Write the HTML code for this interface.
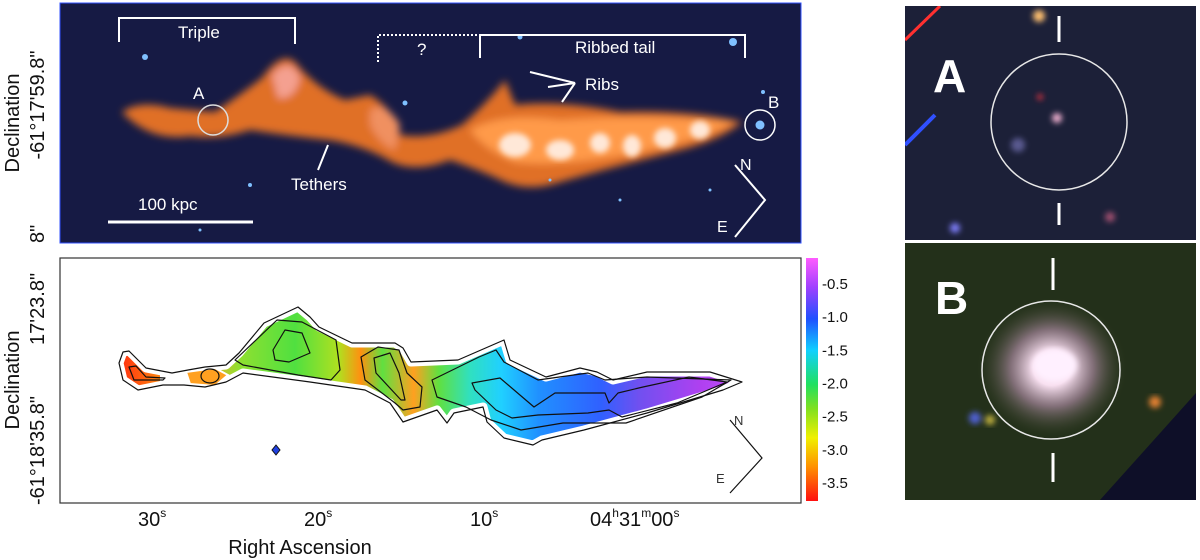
<!DOCTYPE html>
<html><head><meta charset="utf-8"><style>
html,body{margin:0;padding:0;background:#fff;width:1200px;height:560px;overflow:hidden}
svg{display:block;font-family:"Liberation Sans","DejaVu Sans",sans-serif}
</style></head><body>
<svg id="fig" width="1200" height="560" viewBox="0 0 1200 560">
<defs>
<filter id="b6"><feGaussianBlur stdDeviation="4"/></filter>
<filter id="b3"><feGaussianBlur stdDeviation="3"/></filter>
<filter id="b2"><feGaussianBlur stdDeviation="1.5"/></filter>
<linearGradient id="cbar" x1="0" y1="0" x2="0" y2="1">
<stop offset="0" stop-color="#ff5cff"/><stop offset="0.12" stop-color="#a040ff"/><stop offset="0.25" stop-color="#2050ff"/>
<stop offset="0.38" stop-color="#10d0ff"/><stop offset="0.52" stop-color="#20e060"/><stop offset="0.62" stop-color="#80e020"/>
<stop offset="0.74" stop-color="#f0f000"/><stop offset="0.86" stop-color="#ff9000"/><stop offset="1" stop-color="#ff1010"/>
</linearGradient>
<linearGradient id="spix" gradientUnits="userSpaceOnUse" x1="120" y1="0" x2="745" y2="0">
<stop offset="0" stop-color="#ff3010"/><stop offset="0.06" stop-color="#ff8010"/><stop offset="0.13" stop-color="#ffa020"/>
<stop offset="0.19" stop-color="#90e030"/><stop offset="0.28" stop-color="#50e040"/><stop offset="0.35" stop-color="#b0e020"/>
<stop offset="0.385" stop-color="#ff9010"/><stop offset="0.42" stop-color="#60e040"/><stop offset="0.47" stop-color="#ffa020"/>
<stop offset="0.51" stop-color="#60e040"/><stop offset="0.56" stop-color="#30e0c0"/><stop offset="0.61" stop-color="#20d0ff"/>
<stop offset="0.67" stop-color="#2090ff"/><stop offset="0.77" stop-color="#3060ff"/><stop offset="0.83" stop-color="#7050f0"/>
<stop offset="0.93" stop-color="#b040f0"/><stop offset="1" stop-color="#c050ff"/>
</linearGradient>
<radialGradient id="glowB" cx="0.5" cy="0.5" r="0.5">
<stop offset="0" stop-color="#fff4ff"/><stop offset="0.25" stop-color="#f8e0f0"/><stop offset="0.55" stop-color="#9a7f90" stop-opacity="0.8"/><stop offset="1" stop-color="#334022" stop-opacity="0"/>
</radialGradient>
<clipPath id="clipTop"><rect x="60" y="3" width="741" height="240"/></clipPath>
<clipPath id="clipA"><rect x="905" y="6" width="291" height="234"/></clipPath>
<clipPath id="clipB"><rect x="905" y="243" width="291" height="257"/></clipPath>
</defs>

<!-- TOP PANEL -->
<g clip-path="url(#clipTop)">
<rect x="60" y="3" width="741" height="240" fill="#161a44"/>
<g filter="url(#b6)">
<path d="M122,112 Q140,100 170,108 L215,112 Q240,95 262,78 Q285,45 300,68 Q320,90 345,100 L370,95 Q395,110 400,135 Q430,140 462,125 Q490,100 505,80 L515,105 Q560,100 620,112 Q690,110 742,122 Q720,140 680,150 Q620,165 560,182 Q530,192 505,182 Q480,170 450,160 Q410,175 385,158 Q360,145 330,140 Q290,136 250,130 Q220,140 190,136 Q150,142 122,112 Z" fill="#e07028"/>
<path d="M470,130 Q500,112 560,120 Q650,114 735,122 Q700,140 640,152 Q560,168 515,162 Q485,150 470,130 Z" fill="#ff9a48"/>
<path d="M272,75 Q290,55 300,78 Q295,100 278,98 Z" fill="#f4a090"/>
<path d="M370,110 Q385,100 400,125 L395,150 Q380,145 370,125 Z" fill="#f09060"/>
</g>
<g filter="url(#b3)" fill="#ffe8d8">
<ellipse cx="515" cy="145" rx="16" ry="12"/><ellipse cx="560" cy="150" rx="14" ry="10"/><ellipse cx="600" cy="143" rx="10" ry="10"/>
<ellipse cx="632" cy="146" rx="9" ry="11"/><ellipse cx="665" cy="138" rx="11" ry="10"/><ellipse cx="700" cy="130" rx="10" ry="9"/>
</g>
<g fill="#7fc0ff">
<circle cx="145" cy="57" r="3"/><circle cx="733" cy="42" r="4"/><circle cx="520" cy="37" r="2.5"/><circle cx="405" cy="103" r="2.5"/><circle cx="763" cy="92" r="2"/><circle cx="760" cy="125" r="4.5"/><circle cx="250" cy="185" r="2"/><circle cx="200" cy="230" r="1.5"/><circle cx="620" cy="200" r="1.5"/><circle cx="550" cy="180" r="1.5"/><circle cx="710" cy="190" r="1.5"/>
</g>
<g stroke="#fff" fill="none" stroke-width="2">
<path d="M119,42 V18 H295 V44"/>
<path d="M480,58 V35 H745 V58"/>
<path d="M378,62 V35 H480" stroke-dasharray="2,2"/>
<circle cx="213" cy="120" r="15" stroke-width="1.5" stroke="#ddd"/>
<circle cx="760" cy="125" r="15" stroke-width="1.5"/>
<path d="M530,72 L575,83 L548,87 M575,83 L562,102"/>
<path d="M328,145 L318,170"/>
<path d="M108,222 H253" stroke-width="3"/>
<path d="M735,165 L765,200 L735,237"/>
</g>
<g fill="#fff" font-size="17">
<text x="178" y="38">Triple</text>
<text x="417" y="55">?</text>
<text x="575" y="53">Ribbed tail</text>
<text x="585" y="90">Ribs</text>
<text x="193" y="99">A</text>
<text x="768" y="108">B</text>
<text x="291" y="190">Tethers</text>
<text x="138" y="210">100 kpc</text>
<text x="740" y="170" font-size="16">N</text>
<text x="717" y="232" font-size="16">E</text>
</g>
</g>
<rect x="60" y="3" width="741" height="240" fill="none" stroke="#3050ff" stroke-width="1"/>
<g font-size="20" fill="#111">
<text transform="translate(19,123) rotate(-90)" text-anchor="middle">Declination</text>
<text transform="translate(44,105) rotate(-90)" text-anchor="middle">-61°17'59.8"</text>
<text transform="translate(44,243) rotate(-90)" text-anchor="start">8"</text>
</g>

<!-- BOTTOM PANEL -->
<g>
<rect x="60" y="258" width="741" height="245" fill="#fff" stroke="#333" stroke-width="1.2"/>
<g>
<path d="M123,352 L129,351 L146,368 L172,373 L188,370 L205,367 L226,365 L239,353 L264,323 L298,307 L310,317 L319,327 L352,343 L395,343 L403,348 L411,362 L458,360 L504,340 L510,360 L546,377 L580,368 L597,372 L613,380 L647,372 L710,372 L742,382 L723,390 L647,413 L584,430 L542,440 L533,445 L504,438 L487,422 L483,407 L454,413 L447,423 L437,410 L403,422 L390,403 L365,390 L310,382 L243,373 L226,382 L205,387 L184,385 L163,385 L138,390 L123,380 L119,363 Z" fill="url(#spix)" stroke="#fff" stroke-width="9" stroke-linejoin="round"/>
<rect x="160" y="360" width="40" height="30" fill="#fff"/>
<path d="M186,372 L215,368 L228,375 L215,386 L190,384 Z" fill="#ffa020" stroke="#fff" stroke-width="2"/>
<g fill="none" stroke="#111" stroke-width="1.2" stroke-linejoin="round">
<path d="M123,352 L129,351 L146,368 L172,373 L188,370 L205,367 L226,365 L239,353 L264,323 L298,307 L310,317 L319,327 L352,343 L395,343 L403,348 L411,362 L458,360 L504,340 L510,360 L546,377 L580,368 L597,372 L613,380 L647,372 L710,372 L742,382 L723,390 L647,413 L584,430 L542,440 L533,445 L504,438 L487,422 L483,407 L454,413 L447,423 L437,410 L403,422 L390,403 L365,390 L310,382 L243,373 L226,382 L205,387 L184,385 L163,385 L138,390 L123,380 L119,363 Z"/>
<path d="M129,367 L136,366 L146,377 L165,378 L163,380 L134,380 Z"/>
<ellipse cx="210" cy="376" rx="9" ry="7"/>
<path d="M235,360 L277,320 L302,322 L336,340 L340,370 L331,380 L298,375 L243,365 Z"/>
<path d="M273,350 L285,330 L302,333 L310,353 L289,362 L275,360 Z"/>
<path d="M361,357 L378,347 L399,350 L407,373 L422,387 L420,407 L403,410 L395,403 L365,380 Z"/>
<path d="M374,358 L390,353 L399,373 L405,400 L401,400 L376,373 Z"/>
<path d="M432,380 L479,357 L496,350 L504,362 L538,380 L588,373 L605,380 L647,377 L731,380 L702,397 L626,423 L563,423 L521,430 L491,420 L466,407 L437,397 Z"/>
<path d="M472,383 L500,378 L534,407 L555,393 L605,393 L609,403 L618,393 L643,387 L689,377 L727,382 L677,403 L622,417 L609,410 L588,413 L538,415 L512,418 L496,410 L475,390 Z"/>
</g>
<path d="M276,445 L280,450 L276,455 L272,450 Z" fill="#2040e0" stroke="#111" stroke-width="1"/>
<g stroke="#111" fill="none" stroke-width="1.2"><path d="M730,420 L762,458 L730,493"/></g>
<text x="734" y="425" font-size="13" fill="#333">N</text>
<text x="716" y="483" font-size="13" fill="#333">E</text>
</g>
<g id="xticks"></g>
<text x="300" y="554" font-size="20" text-anchor="middle" fill="#111">Right Ascension</text>
<g font-size="20" fill="#111">
<text transform="translate(19,380) rotate(-90)" text-anchor="middle">Declination</text>
<text transform="translate(44,505) rotate(-90)" text-anchor="start">-61°18'35.8"</text>
<text transform="translate(44,345) rotate(-90)" text-anchor="start">17'23.8"</text>
</g>
<rect x="806" y="258" width="12" height="243" fill="url(#cbar)"/>
<g id="cbticks"></g>
</g>

<!-- PANEL A -->
<g clip-path="url(#clipA)">
<rect x="905" y="6" width="291" height="234" fill="#1c2038"/>
<g filter="url(#b3)">
<circle cx="1039" cy="16" r="6" fill="#ffc070"/>
<circle cx="1057" cy="118" r="5" fill="#f0b0d0"/>
<circle cx="1040" cy="97" r="3" fill="#e03040"/>
<circle cx="955" cy="228" r="5" fill="#8080ff"/>
<circle cx="1018" cy="145" r="7" fill="#5a5a90"/>
<circle cx="1110" cy="217" r="5" fill="#a05070"/>
</g>
<path d="M905,40 L940,6" stroke="#ff3030" stroke-width="3"/>
<path d="M905,145 L935,115" stroke="#3050ff" stroke-width="4"/>
<circle cx="1059" cy="122" r="68" fill="none" stroke="#e8e8e8" stroke-width="1.5"/>
<path d="M1059,16 V42 M1059,203 V225" stroke="#fff" stroke-width="3"/>
<text x="933" y="92" font-size="46" font-weight="bold" fill="#fff">A</text>
</g>
<!-- PANEL B -->
<g clip-path="url(#clipB)">
<rect x="905" y="243" width="291" height="257" fill="#23301a"/>
<path d="M1100,500 L1196,393 L1196,500 Z" fill="#0e0f28"/>
<ellipse cx="1052" cy="368" rx="75" ry="70" fill="url(#glowB)"/>
<ellipse cx="1055" cy="365" rx="22" ry="16" fill="#fff0ff" filter="url(#b3)"/>
<g filter="url(#b3)"><circle cx="1155" cy="402" r="6" fill="#e08030"/><circle cx="975" cy="418" r="6" fill="#5060d0"/><circle cx="990" cy="420" r="5" fill="#c0b040"/></g>
<circle cx="1051" cy="370" r="69" fill="none" stroke="#e8e8e8" stroke-width="1.5"/>
<path d="M1053,258 V290 M1053,453 V482" stroke="#fff" stroke-width="3"/>
<text x="935" y="314" font-size="46" font-weight="bold" fill="#fff">B</text>
</g>
</svg>
<script>
const xTickLabels = ["30", "20", "10", "00"];
const xTickSeconds = [30, 20, 10, 0];
const cbarValues = [-0.5, -1.0, -1.5, -2.0, -2.5, -3.0, -3.5];
const cbarLabels = ["-0.5", "-1.0", "-1.5", "-2.0", "-2.5", "-3.0", "-3.5"];
const NS = "http://www.w3.org/2000/svg";
function xScale(s){ return 152 + (30 - s) * 16.6; }
function cScale(v){ return 283 + (-0.5 - v) * 66.3; }
const xg = document.getElementById("xticks");
xTickSeconds.forEach((s, i) => {
  const x = xScale(s);
  const t = document.createElementNS(NS, "text");
  
  
  t.setAttribute("y", 526); t.setAttribute("font-size", 20); t.setAttribute("fill", "#111");
  if (s === 0) {
    t.setAttribute("x", x - 60);
    t.innerHTML = '04<tspan font-size="12" dy="-9">h</tspan><tspan dy="9">31</tspan><tspan font-size="12" dy="-9">m</tspan><tspan dy="9">' + xTickLabels[i] + '</tspan><tspan font-size="12" dy="-9">s</tspan>';
  } else {
    t.setAttribute("x", x - 14);
    t.innerHTML = xTickLabels[i] + '<tspan font-size="12" dy="-9">s</tspan>';
  }
  xg.appendChild(t);
});
const cg = document.getElementById("cbticks");
cbarValues.forEach((v, i) => {
  const y = cScale(v);
  const t = document.createElementNS(NS, "text");
  
  
  t.setAttribute("x", 822); t.setAttribute("y", y + 6); t.setAttribute("font-size", 15); t.setAttribute("fill", "#111");
  t.textContent = cbarLabels[i];
  cg.appendChild(t);
});
</script>
</body></html>
